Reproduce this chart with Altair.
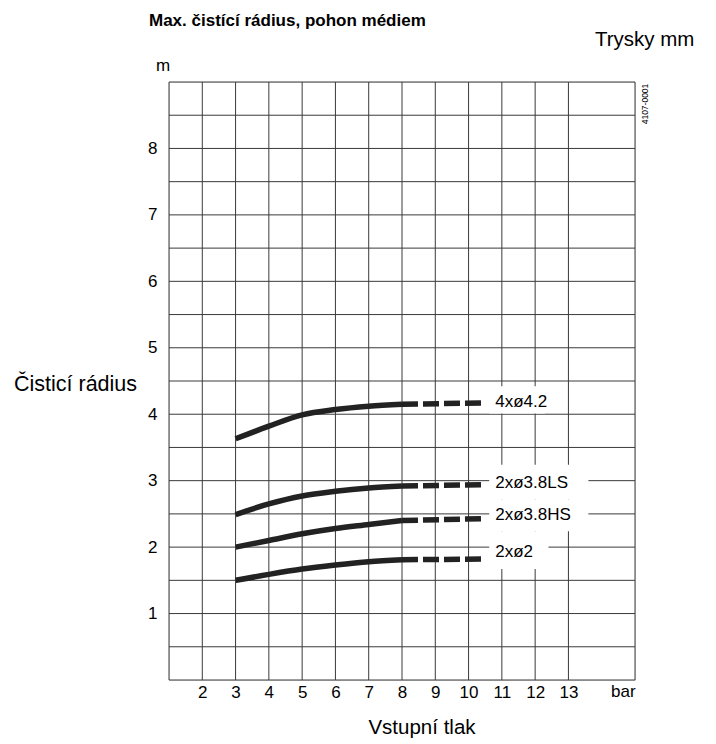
import altair as alt
import pandas as pd

# ---- data ----
pressure = [3, 4, 5, 6, 7, 8]          # bar, measured (solid) part
dash_pressure = [8, 10.5]              # extrapolated (dashed) part
series_names = ["4xø4.2", "2xø3.8LS", "2xø3.8HS", "2xø2"]
radius_42 = [3.63, 3.82, 3.99, 4.07, 4.12, 4.15]
radius_38ls = [2.49, 2.65, 2.77, 2.84, 2.89, 2.92]
radius_38hs = [2.00, 2.10, 2.20, 2.28, 2.34, 2.40]
radius_2 = [1.50, 1.59, 1.67, 1.73, 1.78, 1.81]
radius_end = [4.17, 2.94, 2.43, 1.82]   # value at 10.5 bar
label_y = [4.19, 2.96, 2.48, 1.92]
x_tick_labels = list(range(2, 14))
y_tick_labels = list(range(1, 9))
x_grid = [1] + x_tick_labels + [15]
y_grid = [i * 0.5 for i in range(0, 19)]

# ---- layout / style ----
W, H = 466, 598
FONT = "Liberation Sans"
INK = "#222222"
GRID = "#3a3a3a"
label_x = 10.8
box_x0 = [10.62, 10.62, 10.62, 10.62]
box_x1 = [12.3, 13.6, 13.6, 12.4]
box_y0 = [4.01, 2.72, 2.24, 1.67]
box_y1 = [4.42, 3.24, 2.72, 2.24]

series_vals = [radius_42, radius_38ls, radius_38hs, radius_2]
solid_rows, dash_rows = [], []
for name, vals, end in zip(series_names, series_vals, radius_end):
    for p, r in zip(pressure, vals):
        solid_rows.append({"series": name, "p": p, "r": r})
    dash_rows.append({"series": name, "p": dash_pressure[0], "r": vals[-1]})
    dash_rows.append({"series": name, "p": dash_pressure[1], "r": end})
solid_df = pd.DataFrame(solid_rows)
dash_df = pd.DataFrame(dash_rows)
label_df = pd.DataFrame({"series": series_names, "p": [label_x] * 4, "r": label_y,
                         "x0": box_x0, "x1": box_x1, "y0": box_y0, "y1": box_y1})

xs = alt.Scale(domain=[1, 15], nice=False, zero=False)
ys = alt.Scale(domain=[0, 9], nice=False, zero=False)

x_axis = alt.Axis(values=x_tick_labels, grid=False, ticks=False, tickSize=0, domain=False,
                  format="d", labelOverlap=False, labelFlush=False,
                  labelFontSize=17, labelPadding=4, labelColor="black", title=None,
                  labelFont=FONT)
y_axis = alt.Axis(values=y_tick_labels, grid=False, ticks=False, tickSize=0, domain=False,
                  format="d", labelOverlap=False, labelFlush=False,
                  labelFontSize=17, labelPadding=12, labelColor="black", title=None,
                  labelFont=FONT)


def X(f):
    return alt.X(f, scale=xs, axis=x_axis)


def Y(f):
    return alt.Y(f, scale=ys, axis=y_axis)


vgrid = alt.Chart(pd.DataFrame({"g": x_grid})).mark_rule(color=GRID, strokeWidth=1).encode(x=X("g:Q"))
hgrid = alt.Chart(pd.DataFrame({"g": y_grid})).mark_rule(color=GRID, strokeWidth=1).encode(y=Y("g:Q"))

boxes = alt.Chart(label_df).mark_rect(color="white").encode(
    x=X("x0:Q"), x2="x1:Q", y=Y("y0:Q"), y2="y1:Q")

solid = alt.Chart(solid_df).mark_line(color=INK, strokeWidth=5.5, strokeCap="butt",
                                      interpolate="monotone").encode(
    x=X("p:Q"), y=Y("r:Q"), detail="series:N")

dashed = alt.Chart(dash_df).mark_line(color=INK, strokeWidth=5.5, strokeDash=[16, 5],
                                      strokeCap="butt").encode(
    x=X("p:Q"), y=Y("r:Q"), detail="series:N")

labels = alt.Chart(label_df).mark_text(align="left", baseline="middle", fontSize=17,
                                       font=FONT, color="black").encode(
    x=X("p:Q"), y=Y("r:Q"), text="series:N")

ann_df = pd.DataFrame({"t": ["bar"], "p": [14.65]})
bar_lbl = alt.Chart(ann_df).mark_text(align="center", baseline="top", fontSize=17, font=FONT,
                                      color="black").encode(
    x=X("p:Q"), y=alt.value(H + 4), text="t:N")


def txt(s, x, y, size=19, weight="normal", align="left", baseline="alphabetic", angle=0):
    return alt.Chart(pd.DataFrame({"t": [s]})).mark_text(
        align=align, baseline=baseline, fontSize=size, fontWeight=weight, font=FONT,
        color="black", angle=angle).encode(x=alt.value(x), y=alt.value(y), text="t:N")


title = txt("Max.  čistící rádius, pohon médiem", -20, -56, size=17, weight="bold")
trysky = txt("Trysky mm", 426, -36, size=20.5)
m_lbl = txt("m", -6, -11, size=17, align="center")
x_title = txt("Vstupní  tlak", 253, 652, size=20.5, align="center")
y_title = txt("Čisticí rádius", -155, 303, size=21.5, baseline="middle")
code = txt("4107-0001", 476, 22, size=8.5, align="center", baseline="middle", angle=270)

chart = alt.layer(vgrid, hgrid, boxes, solid, dashed, labels, bar_lbl, title, trysky, m_lbl,
                  x_title, y_title, code).properties(
    width=W, height=H,
    autosize=alt.AutoSizeParams(type="none"),
    padding={"left": 161, "top": 74, "right": 73, "bottom": 62},
).configure_view(stroke="#333333", strokeWidth=1.2).configure(font=FONT, background="white")

chart.save("out.html", embed_options={"renderer": "svg", "actions": False})
